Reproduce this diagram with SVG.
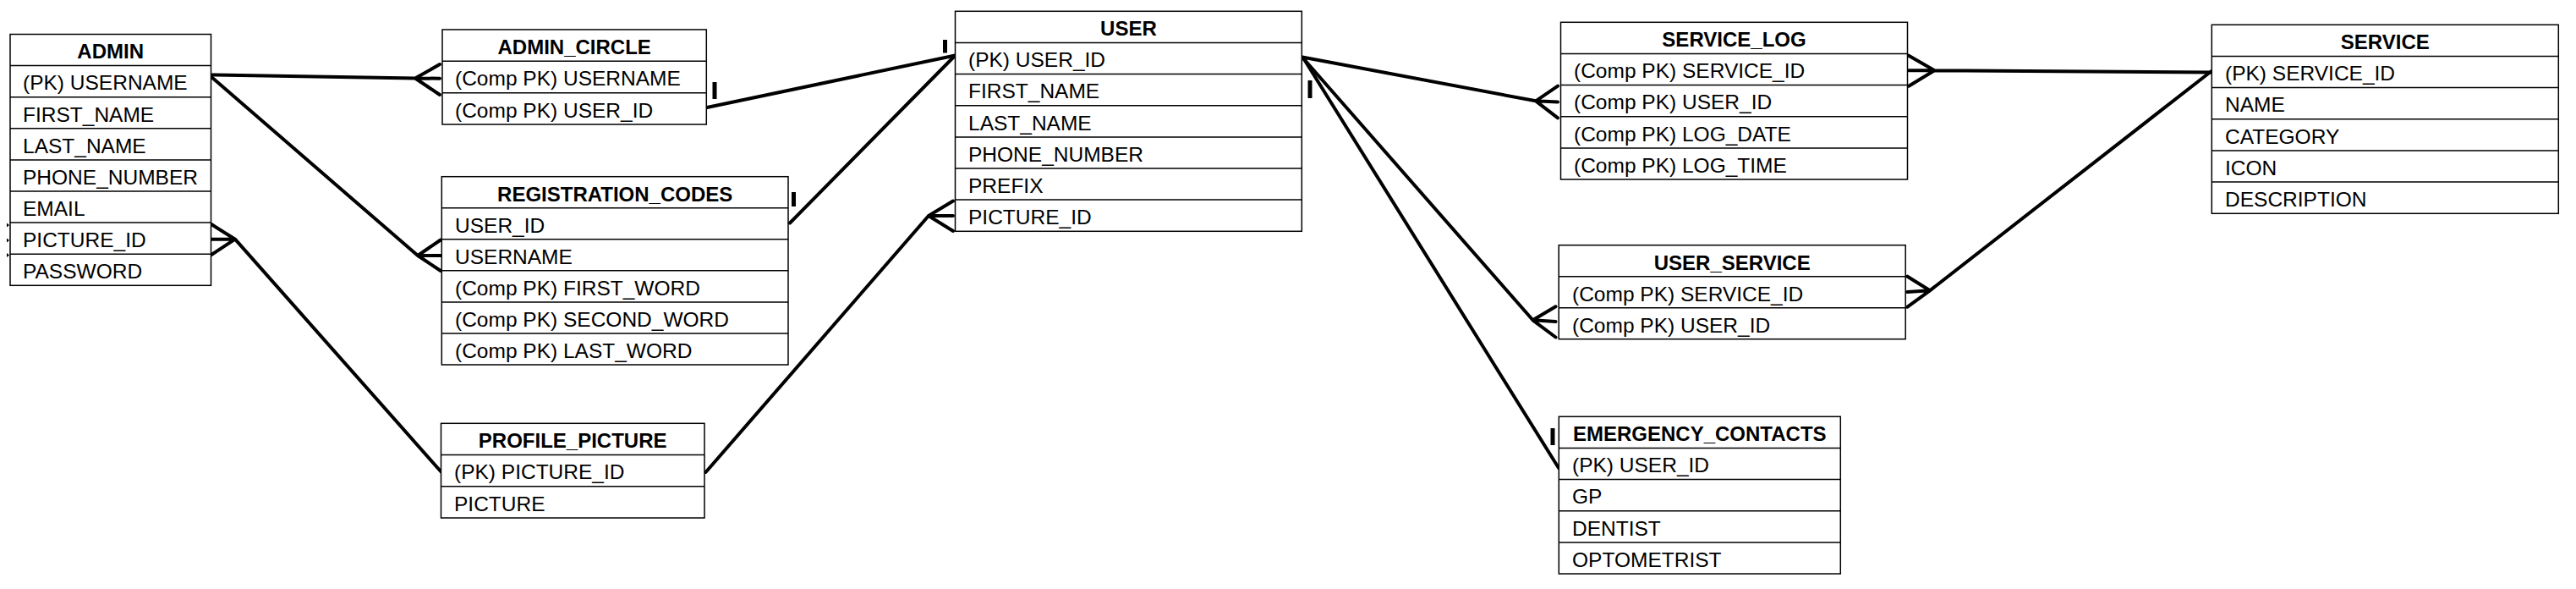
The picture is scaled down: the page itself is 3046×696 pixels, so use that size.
<svg xmlns="http://www.w3.org/2000/svg" width="3046" height="696" viewBox="0 0 3046 696">
<style>
.box{fill:#fff;stroke:#000;stroke-width:1.5}
.sep{stroke:#000;stroke-width:1.5}
.t{font-family:"Liberation Sans",Arial,sans-serif;font-size:24.5px;fill:#000}
.h{font-family:"Liberation Sans",Arial,sans-serif;font-size:24px;font-weight:bold;fill:#000;text-anchor:middle}
.c{fill:none;stroke:#000;stroke-width:4;stroke-linecap:round;stroke-linejoin:round}
.k{fill:none;stroke:#000;stroke-width:5}
</style>
<rect width="3046" height="696" fill="#fff"/>

<g id="connectors">
  <!-- ADMIN.USERNAME -> ADMIN_CIRCLE -->
  <path class="c" d="M249,88.5 L491,92.5 M520,76 L491,92.5 L520,112 M491,92.5 L520,92.7"/>
  <!-- ADMIN.USERNAME -> REGISTRATION_CODES.USERNAME -->
  <path class="c" d="M250,91 L494,302 M521,283.5 L494,302 L521,320 M494,302 L521,302"/>
  <!-- PROFILE_PICTURE -> ADMIN.PICTURE_ID -->
  <path class="c" d="M250,265 L278,282.7 L250,301 M250,282.7 L278,282.7 M278,282.7 L522,558"/>
  <!-- ADMIN_CIRCLE.USER_ID -> USER.USER_ID -->
  <path class="c" d="M836,127 L1129.5,65.5"/>
  <path class="k" d="M845,97 L845,117 M1117.5,47 L1117.5,62.5"/>
  <!-- REGISTRATION_CODES.USER_ID -> USER.USER_ID -->
  <path class="c" d="M934,263.5 L1128,67"/>
  <path class="k" d="M938.5,227 L938.5,244"/>
  <!-- PROFILE_PICTURE -> USER.PICTURE_ID -->
  <path class="c" d="M834.5,558 L1098,255 M1127,237.5 L1098,255 L1127,273 M1098,255 L1127,255"/>
  <!-- USER -> SERVICE_LOG -->
  <path class="c" d="M1540,67.5 L1816,119.3 M1842,101.7 L1816,119.3 L1842,139.3 M1816,119.3 L1842,120.5"/>
  <path class="k" d="M1549,95 L1549,116"/>
  <!-- USER -> USER_SERVICE -->
  <path class="c" d="M1542,70 L1812.5,378.3 M1839.5,362.3 L1812.5,378.3 L1839.5,398.5 M1812.5,378.3 L1839.5,380"/>
  <!-- USER -> EMERGENCY_CONTACTS -->
  <path class="c" d="M1542,70 L1843,553"/>
  <path class="k" d="M1836,506 L1836,526"/>
  <!-- SERVICE -> SERVICE_LOG -->
  <path class="c" d="M2615,85.5 L2287.5,83.3 M2257,65.7 L2287.5,83.3 L2257,101.7 M2287.5,83.3 L2257,83.3"/>
  <!-- SERVICE -> USER_SERVICE -->
  <path class="c" d="M2615,84 L2282,343.3 M2255.5,326.7 L2282,343.3 L2255.5,362.7 M2282,343.3 L2255.5,345"/>
  <!-- small marks at ADMIN left edge -->
  <path d="M8,263.5 L11,266 L8,268.5 Z M8,281.5 L11,284 L8,286.5 Z M8,299 L11,301.5 L8,304 Z" fill="#000"/>
</g>

<g id="admin">
  <rect class="box" x="12" y="40.5" width="237.5" height="296.8"/>
  <path class="sep" d="M12,77.6H249.5M12,114.7H249.5M12,151.8H249.5M12,188.9H249.5M12,226H249.5M12,263.1H249.5M12,300.2H249.5"/>
  <text class="h" x="130.7" y="69.3">ADMIN</text>
  <text class="t" x="27" y="106.4">(PK) USERNAME</text>
  <text class="t" x="27" y="143.5">FIRST_NAME</text>
  <text class="t" x="27" y="180.6">LAST_NAME</text>
  <text class="t" x="27" y="217.7">PHONE_NUMBER</text>
  <text class="t" x="27" y="254.8">EMAIL</text>
  <text class="t" x="27" y="291.9">PICTURE_ID</text>
  <text class="t" x="27" y="329">PASSWORD</text>
</g>

<g id="admin_circle">
  <rect class="box" x="523" y="35" width="312.3" height="112"/>
  <path class="sep" d="M523,72.3H835.3M523,109.7H835.3"/>
  <text class="h" x="679.2" y="63.8">ADMIN_CIRCLE</text>
  <text class="t" x="538" y="101.1">(Comp PK) USERNAME</text>
  <text class="t" x="538" y="138.5">(Comp PK) USER_ID</text>
</g>

<g id="registration_codes">
  <rect class="box" x="522.3" y="208.7" width="409.7" height="222.3"/>
  <path class="sep" d="M522.3,245.75H932M522.3,282.8H932M522.3,319.85H932M522.3,356.9H932M522.3,393.95H932"/>
  <text class="h" x="727.2" y="237.5">REGISTRATION_CODES</text>
  <text class="t" x="538" y="274.6">USER_ID</text>
  <text class="t" x="538" y="311.6">USERNAME</text>
  <text class="t" x="538" y="348.7">(Comp PK) FIRST_WORD</text>
  <text class="t" x="538" y="385.7">(Comp PK) SECOND_WORD</text>
  <text class="t" x="538" y="422.8">(Comp PK) LAST_WORD</text>
</g>

<g id="profile_picture">
  <rect class="box" x="521.5" y="500.3" width="311.5" height="111.7"/>
  <path class="sep" d="M521.5,537.5H833M521.5,574.8H833"/>
  <text class="h" x="677.2" y="529.1">PROFILE_PICTURE</text>
  <text class="t" x="537" y="566.3">(PK) PICTURE_ID</text>
  <text class="t" x="537" y="603.6">PICTURE</text>
</g>

<g id="user">
  <rect class="box" x="1129.5" y="13.3" width="409.8" height="260"/>
  <path class="sep" d="M1129.5,50.4H1539.3M1129.5,87.6H1539.3M1129.5,124.7H1539.3M1129.5,161.9H1539.3M1129.5,199H1539.3M1129.5,236.1H1539.3"/>
  <text class="h" x="1334.4" y="42.1">USER</text>
  <text class="t" x="1145" y="79.2">(PK) USER_ID</text>
  <text class="t" x="1145" y="116.4">FIRST_NAME</text>
  <text class="t" x="1145" y="153.5">LAST_NAME</text>
  <text class="t" x="1145" y="190.7">PHONE_NUMBER</text>
  <text class="t" x="1145" y="227.8">PREFIX</text>
  <text class="t" x="1145" y="264.9">PICTURE_ID</text>
</g>

<g id="service_log">
  <rect class="box" x="1845.5" y="26.3" width="410" height="185.7"/>
  <path class="sep" d="M1845.5,63.4H2255.5M1845.5,100.6H2255.5M1845.5,137.7H2255.5M1845.5,174.9H2255.5"/>
  <text class="h" x="2050.5" y="55.1">SERVICE_LOG</text>
  <text class="t" x="1861" y="92.2">(Comp PK) SERVICE_ID</text>
  <text class="t" x="1861" y="129.4">(Comp PK) USER_ID</text>
  <text class="t" x="1861" y="166.5">(Comp PK) LOG_DATE</text>
  <text class="t" x="1861" y="203.7">(Comp PK) LOG_TIME</text>
</g>

<g id="user_service">
  <rect class="box" x="1843.2" y="289.7" width="410" height="111"/>
  <path class="sep" d="M1843.2,326.7H2253.2M1843.2,363.7H2253.2"/>
  <text class="h" x="2048.2" y="318.5">USER_SERVICE</text>
  <text class="t" x="1859" y="355.5">(Comp PK) SERVICE_ID</text>
  <text class="t" x="1859" y="392.5">(Comp PK) USER_ID</text>
</g>

<g id="service">
  <rect class="box" x="2615.3" y="29.3" width="410" height="223"/>
  <path class="sep" d="M2615.3,66.5H3025.3M2615.3,103.6H3025.3M2615.3,140.8H3025.3M2615.3,178H3025.3M2615.3,215.1H3025.3"/>
  <text class="h" x="2820.3" y="58.1">SERVICE</text>
  <text class="t" x="2631" y="95.3">(PK) SERVICE_ID</text>
  <text class="t" x="2631" y="132.4">NAME</text>
  <text class="t" x="2631" y="169.6">CATEGORY</text>
  <text class="t" x="2631" y="206.8">ICON</text>
  <text class="t" x="2631" y="243.9">DESCRIPTION</text>
</g>

<g id="emergency_contacts">
  <rect class="box" x="1843.3" y="492.3" width="333" height="185.7"/>
  <path class="sep" d="M1843.3,529.4H2176.3M1843.3,566.6H2176.3M1843.3,603.7H2176.3M1843.3,640.9H2176.3"/>
  <text class="h" x="2009.8" y="521.1">EMERGENCY_CONTACTS</text>
  <text class="t" x="1859" y="558.2">(PK) USER_ID</text>
  <text class="t" x="1859" y="595.4">GP</text>
  <text class="t" x="1859" y="632.5">DENTIST</text>
  <text class="t" x="1859" y="669.7">OPTOMETRIST</text>
</g>
</svg>
